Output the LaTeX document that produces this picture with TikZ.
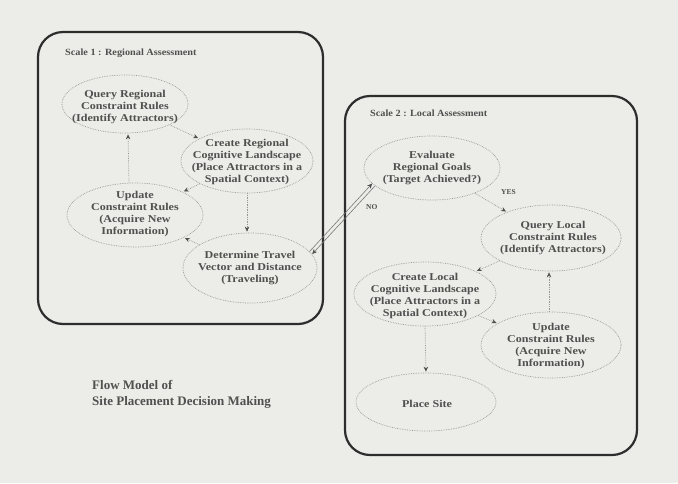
\documentclass[tikz,border=0pt]{standalone}
\usepackage{fontspec}
\setmainfont{Liberation Serif}
\newfontfamily\wideserif[FakeStretch=1.15]{Liberation Serif}
\newfontfamily\labelserif[FakeStretch=1.08]{Liberation Serif}
\usetikzlibrary{shapes.geometric,arrows.meta}
\definecolor{paper}{RGB}{236,236,232}
\definecolor{ink}{RGB}{80,80,80}
\definecolor{frame}{RGB}{45,45,45}
\definecolor{dotc}{RGB}{150,150,150}
\begin{document}
\begin{tikzpicture}[x=1pt,y=-1pt,
  ell/.style={ellipse, draw=dotc, densely dotted, line width=0.7pt, inner sep=0pt},
  etext/.style={inner sep=0pt, align=center, text=ink, font=\wideserif\fontsize{10.5}{12.3}\selectfont\bfseries},
  panel/.style={draw=frame, line width=2.2pt, rounded corners=25pt},
  arr/.style={draw=dotc, densely dotted, line width=0.7pt, -{Stealth[length=5pt,width=4.5pt,color=ink]}, shorten >=1pt},
  link/.style={draw=dotc!80!black, line width=0.6pt, -{Stealth[length=5pt,width=4.5pt,color=ink]}},
  lbl/.style={text=ink, font=\labelserif\fontsize{9.5}{11}\selectfont\bfseries, inner sep=0pt, anchor=west},
  ttl/.style={text=ink, font=\fontsize{13}{16}\selectfont\bfseries, inner sep=0pt, anchor=north west, align=left},
  small/.style={text=ink, font=\fontsize{7.5}{9}\selectfont\bfseries, inner sep=0pt},
]
\fill[paper] (0,0) rectangle (678,483);
\useasboundingbox (0,0) rectangle (678,483);

% panels
\draw[panel] (38,32) rectangle (323,324);
\draw[panel] (345,96) rectangle (637,455);
\node[lbl] (s1) at (65,53) {Scale 1 : Regional Assessment};
\node[lbl] (s2) at (370,113) {Scale 2 : Local Assessment};

% left panel nodes
\node[ell, minimum width=126pt, minimum height=58pt] (L1) at (125,104) {};
\node[etext] (L1t) at (125,107) {Query Regional\\Constraint Rules\\(Identify Attractors)};
\node[ell, minimum width=132pt, minimum height=64pt] (L2) at (247,161) {};
\node[etext] (L2t) at (247,162) {Create Regional\\Cognitive Landscape\\(Place Attractors in a\\Spatial Context)};
\node[ell, minimum width=136pt, minimum height=64pt] (L3) at (135,215) {};
\node[etext] (L3t) at (135,214) {Update\\Constraint Rules\\(Acquire New\\Information)};
\node[ell, minimum width=134pt, minimum height=70pt] (L4) at (250,268) {};
\node[etext] (L4t) at (250,268) {Determine Travel\\Vector and Distance\\(Traveling)};

% right panel nodes
\node[ell, minimum width=136pt, minimum height=64pt] (R1) at (432,168) {};
\node[etext] (R1t) at (432,168) {Evaluate\\Regional Goals\\(Target Achieved?)};
\node[ell, minimum width=140pt, minimum height=66pt] (R2) at (551,238) {};
\node[etext] (R2t) at (553,238) {Query Local\\Constraint Rules\\(Identify Attractors)};
\node[ell, minimum width=142pt, minimum height=64pt] (R3) at (425,294) {};
\node[etext] (R3t) at (425,296) {Create Local\\Cognitive Landscape\\(Place Attractors in a\\Spatial Context)};
\node[ell, minimum width=140pt, minimum height=66pt] (R4) at (551,345) {};
\node[etext] (R4t) at (551,346) {Update\\Constraint Rules\\(Acquire New\\Information)};
\node[ell, minimum width=140pt, minimum height=58pt] (R5) at (426,402) {};
\node[etext] (R5t) at (427,404) {Place Site};

% title
\node[ttl] (title) at (92,380) {Flow Model of\\Site Placement Decision Making};

% left connectors
\draw[arr] (L1) -- (L2);
\draw[arr] ([xshift=-6pt]L3.north) -- ([xshift=3pt]L1.south);
\draw[arr] (L2) -- (L3);
\draw[arr] (L2.south) -- ([xshift=-3pt]L4.north);
\draw[arr] (L4) -- (L3);

% link between panels
\draw[link] ([shift={(-1.4,-1.2)}]L4.14) -- ([shift={(-1.4,-1.2)}]R1.196);
\draw[link] ([shift={(1.4,1.2)}]R1.196) -- ([shift={(1.4,1.2)}]L4.14);
\node[small, anchor=west] (no) at (366,207) {NO};

% right connectors
\draw[arr] (R1) -- (R2);
\node[small, anchor=west] (yes) at (501,192) {YES};
\draw[arr] (R2) -- (R3);
\draw[arr] ([xshift=-2pt]R4.north) -- ([xshift=-2pt]R2.south);
\draw[arr] (R3) -- (R4);
\draw[arr] (R3.south) -- (R5.north);
\end{tikzpicture}
\end{document}
